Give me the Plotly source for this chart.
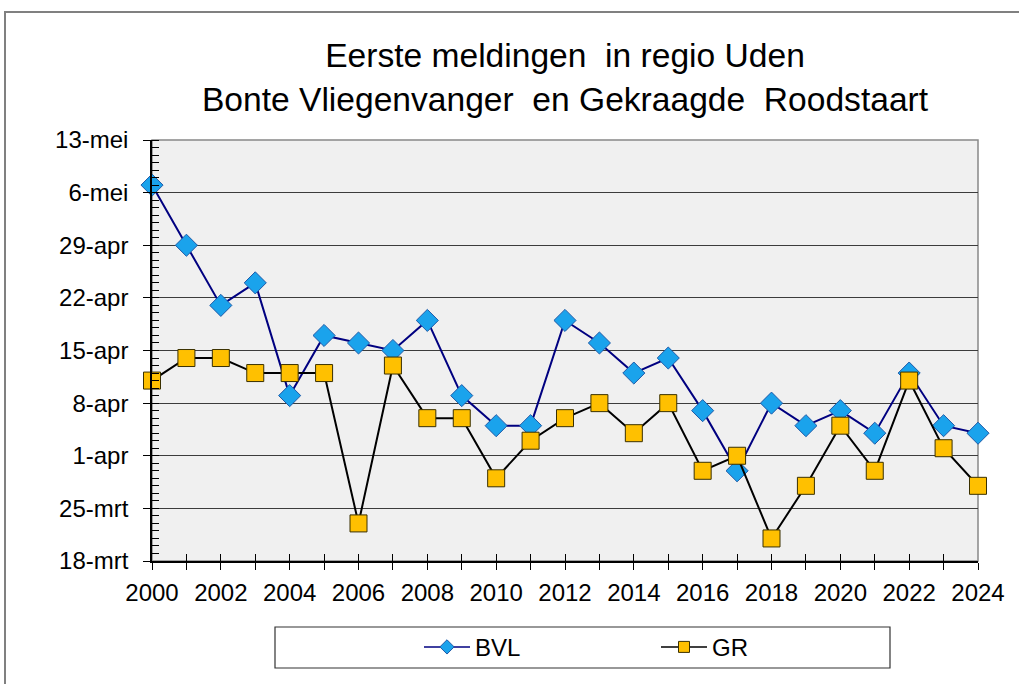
import plotly.graph_objects as go

# First sightings per year (month-day) in regio Uden
years = list(range(2000, 2025))
bvl = ["05-07", "04-29", "04-21", "04-24", "04-09", "04-17", "04-16", "04-15", "04-19",
       "04-09", "04-05", "04-05", "04-19", "04-16", "04-12", "04-14", "04-07", "03-30",
       "04-08", "04-05", "04-07", "04-04", "04-12", "04-05", "04-04"]
gr = ["04-11", "04-14", "04-14", "04-12", "04-12", "04-12", "03-23", "04-13", "04-06",
      "04-06", "03-29", "04-03", "04-06", "04-08", "04-04", "04-08", "03-30", "04-01",
      "03-21", "03-28", "04-05", "03-30", "04-11", "04-02", "03-28"]

y_tick_dates = ["03-18", "03-25", "04-01", "04-08", "04-15", "04-22", "04-29", "05-06", "05-13"]
y_tick_text = ["18-mrt", "25-mrt", "1-apr", "8-apr", "15-apr", "22-apr", "29-apr", "6-mei", "13-mei"]
x_tick_years = list(range(2000, 2025, 2))

REF_YEAR = "2001-"


def as_date(md):
    return [REF_YEAR + d for d in md]


FONT = "Liberation Sans, Arial, sans-serif"

series = [
    dict(name="BVL", y=bvl, line="#000080", symbol="diamond", fill="#1aa3ec", edge="#1f5aa8"),
    dict(name="GR", y=gr, line="#000000", symbol="square", fill="#ffc000", edge="#3a3000"),
]

fig = go.Figure()

for s in series:
    fig.add_trace(go.Scatter(
        x=years, y=as_date(s["y"]), name=s["name"], mode="lines+markers",
        line=dict(color=s["line"], width=2),
        marker=dict(symbol=s["symbol"], size=17, color=s["fill"],
                    line=dict(color=s["edge"], width=1)),
        cliponaxis=False, showlegend=False, legendgroup=s["name"],
    ))
for s in series:
    # legend entries with smaller symbols and thinner lines
    fig.add_trace(go.Scatter(
        x=[None], y=[None], name=s["name"], mode="lines+markers",
        line=dict(color=s["line"], width=1.5),
        marker=dict(symbol=s["symbol"], size=11, color=s["fill"],
                    line=dict(color=s["edge"], width=1)),
        showlegend=True, legendgroup=s["name"],
    ))

# invisible helper trace so the overlaid tick axis is drawn
fig.add_trace(go.Scatter(x=[years[0]], y=as_date([gr[0]]), xaxis="x2", mode="markers",
                         marker=dict(opacity=0), showlegend=False, hoverinfo="skip"))

fig.update_layout(
    width=1019, height=684,
    margin=dict(l=152, r=41, t=140, b=123),
    paper_bgcolor="white",
    plot_bgcolor="#f0f0f0",
    font=dict(family=FONT, size=24, color="#000000"),
    title=dict(
        text="Eerste meldingen  in regio Uden<br>Bonte Vliegenvanger  en Gekraagde  Roodstaart",
        font=dict(family=FONT, size=33.6, color="#000000"),
        x=0.5, xref="paper", xanchor="center",
        y=1 - 67 / 684, yref="container", yanchor="middle",
    ),
    xaxis=dict(
        range=[2000, 2024], tickvals=x_tick_years, ticktext=[str(v) for v in x_tick_years],
        ticks="outside", ticklen=7, tickcolor="#000000", tickwidth=1,
        minor=dict(dtick=1, tick0=2000, ticks="outside", ticklen=7, tickcolor="#000000"),
        showline=True, linecolor="#000000", linewidth=1.5,
        showgrid=False, zeroline=False,
        tickfont=dict(size=24), ticklabelstandoff=2,
    ),
    xaxis2=dict(
        overlaying="x", matches="x", side="bottom", range=[2000, 2024],
        tickvals=x_tick_years, ticks="inside", ticklen=7, tickcolor="#000000",
        minor=dict(dtick=1, tick0=2000, ticks="inside", ticklen=7, tickcolor="#000000"),
        showticklabels=False, showline=False, showgrid=False, zeroline=False,
    ),
    yaxis=dict(
        type="date",
        range=[REF_YEAR + "03-18", REF_YEAR + "05-13"],
        tickvals=as_date(y_tick_dates), ticktext=y_tick_text,
        ticks="outside", ticklen=7, tickcolor="#000000",
        minor=dict(dtick=86400000, tick0=REF_YEAR + "03-18", ticks="inside",
                   ticklen=7, tickcolor="#000000", showgrid=False),
        showline=True, linecolor="#000000", linewidth=1.5,
        showgrid=True, gridcolor="#3c3c3c", gridwidth=1,
        zeroline=False, tickfont=dict(size=24), ticklabelstandoff=10,
    ),
    legend=dict(
        orientation="h", x=(419 - 152) / 826, xanchor="left", y=-0.205, yanchor="middle",
        yref="paper", bgcolor="rgba(0,0,0,0)",
        entrywidth=176, entrywidthmode="pixels", itemwidth=46,
        font=dict(family=FONT, size=24),
    ),
    showlegend=True,
)

# plot-area frame (gray top/right), legend box and outer chart frame
fig.add_shape(type="rect", xref="paper", yref="paper", x0=0, x1=1, y0=0, y1=1,
              line=dict(color="#888888", width=1.5), layer="below")
fig.add_shape(type="rect", xref="paper", yref="paper",
              x0=(275 - 152) / 826, x1=(890 - 152) / 826,
              y0=(561 - 668) / 421, y1=(561 - 627) / 421,
              line=dict(color="#333333", width=1.2), fillcolor="#ffffff")
fig.add_shape(type="rect", xref="paper", yref="paper",
              x0=(5 - 152) / 826, x1=(1040 - 152) / 826,
              y0=(561 - 700) / 421, y1=(561 - 12) / 421,
              line=dict(color="#808080", width=2))

fig.write_html("out.html")
